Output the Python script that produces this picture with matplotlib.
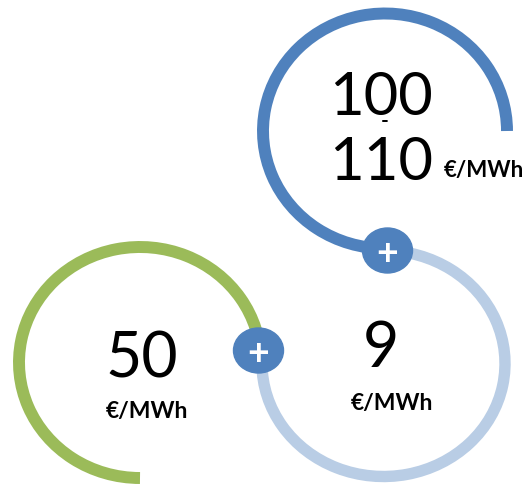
import matplotlib
matplotlib.use("Agg")
import matplotlib.pyplot as plt
from matplotlib.patches import Arc, Ellipse

# ---- data ----
base_cost = ["50"]
addon_cost = ["9"]
total_cost_range = ["100", "110"]
unit_label = "€/MWh"
range_sep = "-"
plus_sign = "+"

green = "#9BBB59"
light_blue = "#B9CDE5"
dark_blue = "#4F81BD"

W, H = 526, 484
fig = plt.figure(figsize=(W / 100, H / 100), dpi=100)
ax = fig.add_axes([0, 0, 1, 1])
ax.set_xlim(0, W)
ax.set_ylim(0, H)
ax.axis("off")


def Y(y):
    return H - y


FONT = ["Lato", "DejaVu Sans"]

# arcs
ax.add_patch(Arc((140, Y(362.5)), 242, 231, theta1=0, theta2=270,
                 color=green, lw=8.6))
ax.add_patch(Arc((383.5, Y(363.5)), 243, 226, theta1=180, theta2=450,
                 color=light_blue, lw=8.2))
ax.add_patch(Arc((385, Y(131)), 244, 235, theta1=0, theta2=270,
                 color=dark_blue, lw=8.6))

# plus badges
for (cx, cy) in [(387.5, 250.5), (258.5, 350.5)]:
    ax.add_patch(Ellipse((cx, Y(cy)), 50, 45, color=dark_blue, zorder=5))
    ax.text(cx, Y(cy), plus_sign, color="white", fontsize=27, family=FONT,
            fontweight="bold", ha="center", va="center_baseline", zorder=6)

# texts
ax.text(381, Y(115), total_cost_range[0], fontsize=43, family=FONT,
        ha="center", va="baseline")
ax.text(385, Y(127), range_sep, fontsize=15, family=FONT,
        fontweight="bold", ha="center", va="baseline")
ax.text(381, Y(180), total_cost_range[1], fontsize=43, family=FONT,
        ha="center", va="baseline")
ax.text(484, Y(177), unit_label, fontsize=16, family=FONT,
        fontweight="bold", ha="center", va="baseline")

ax.text(141.5, Y(377), base_cost[0], fontsize=45, family=FONT,
        ha="center", va="baseline")
ax.text(147, Y(418), unit_label, fontsize=16.5, family=FONT,
        fontweight="bold", ha="center", va="baseline")

ax.text(381, Y(367), addon_cost[0], fontsize=45, family=FONT,
        ha="center", va="baseline")
ax.text(391.5, Y(410), unit_label, fontsize=16.5, family=FONT,
        fontweight="bold", ha="center", va="baseline")

fig.savefig("out.png", dpi=100)
